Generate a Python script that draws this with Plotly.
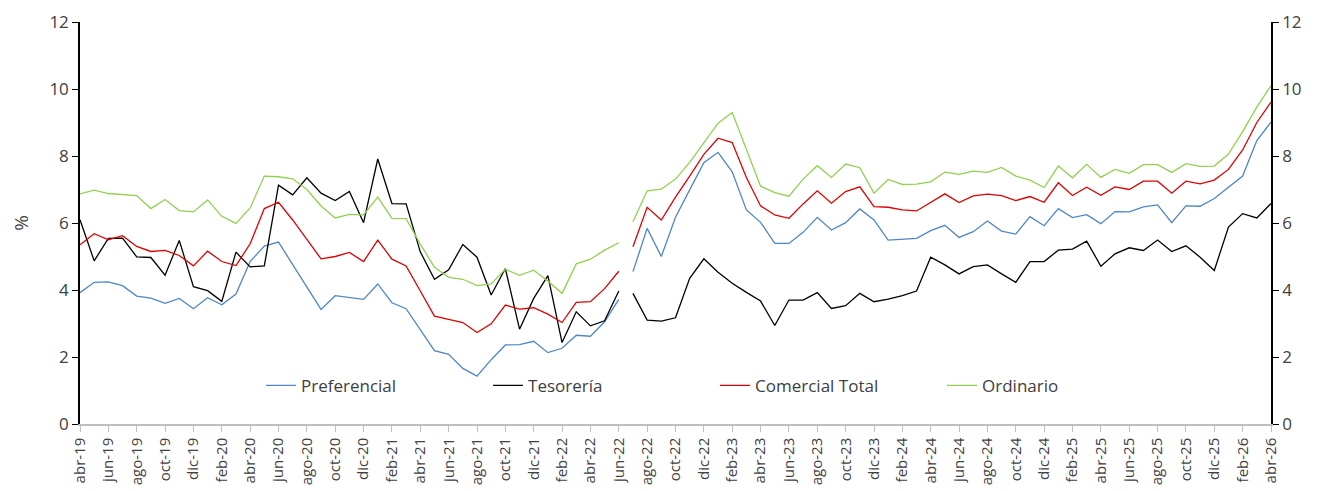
import plotly.graph_objects as go

# months abr-19 .. abr-26 (85 points), series break between jun-22 and jul-22
meses = ["ene", "feb", "mar", "abr", "may", "jun", "jul", "ago", "sep", "oct", "nov", "dic"]
etiquetas = [f"{meses[(3 + i) % 12]}-{19 + (3 + i) // 12}" for i in range(85)]

preferencial = [
    3.92, 4.23, 4.24, 4.13, 3.82, 3.76, 3.60, 3.75, 3.44, 3.77, 3.56, 3.88, 4.85, 5.31, 5.43,
    4.75, 4.10, 3.42, 3.83, 3.78, 3.72, 4.18, 3.62, 3.44, 2.81, 2.19, 2.08, 1.66, 1.43, 1.92,
    2.36, 2.37, 2.47, 2.13, 2.26, 2.65, 2.62, 3.05, 3.72,
    4.55, 5.84, 5.00, 6.17, 6.99, 7.80, 8.11, 7.53, 6.39, 6.02, 5.39, 5.39, 5.72, 6.17, 5.79, 6.01,
    6.42, 6.09, 5.49, 5.52, 5.54, 5.77, 5.93, 5.57, 5.74, 6.06, 5.76, 5.67, 6.19, 5.92, 6.43, 6.16,
    6.25, 5.98, 6.34, 6.33, 6.48, 6.54, 6.01, 6.51, 6.50, 6.73, 7.06, 7.40, 8.46, 9.01,
]
tesoreria = [
    6.10, 4.87, 5.54, 5.55, 4.99, 4.97, 4.44, 5.48, 4.10, 3.98, 3.66, 5.13, 4.69, 4.72, 7.13,
    6.84, 7.35, 6.89, 6.67, 6.94, 6.01, 7.91, 6.58, 6.57, 5.14, 4.32, 4.60, 5.36, 4.98, 3.85,
    4.64, 2.83, 3.75, 4.43, 2.43, 3.35, 2.93, 3.08, 3.97,
    3.90, 3.10, 3.07, 3.17, 4.35, 4.93, 4.53, 4.20, 3.93, 3.67, 2.94, 3.70, 3.70, 3.92, 3.45, 3.53,
    3.90, 3.65, 3.73, 3.83, 3.97, 4.98, 4.75, 4.48, 4.70, 4.75, 4.48, 4.23, 4.85, 4.85, 5.19, 5.22,
    5.46, 4.71, 5.08, 5.26, 5.18, 5.49, 5.15, 5.32, 4.98, 4.58, 5.88, 6.28, 6.15, 6.58,
]
comercial = [
    5.35, 5.68, 5.50, 5.62, 5.30, 5.15, 5.18, 5.03, 4.72, 5.16, 4.85, 4.73, 5.38, 6.43, 6.62,
    6.09, 5.51, 4.93, 5.00, 5.12, 4.85, 5.49, 4.92, 4.72, 3.97, 3.22, 3.12, 3.03, 2.73, 2.99,
    3.55, 3.43, 3.47, 3.28, 3.03, 3.63, 3.65, 4.04, 4.56,
    5.29, 6.47, 6.09, 6.77, 7.40, 8.05, 8.53, 8.40, 7.36, 6.51, 6.24, 6.14, 6.57, 6.96, 6.59, 6.94,
    7.08, 6.49, 6.47, 6.39, 6.36, 6.61, 6.87, 6.61, 6.81, 6.86, 6.82, 6.67, 6.79, 6.62, 7.20, 6.82,
    7.07, 6.83, 7.08, 7.00, 7.25, 7.25, 6.89, 7.25, 7.17, 7.28, 7.60, 8.18, 9.00, 9.61,
]
ordinario = [
    6.87, 6.98, 6.88, 6.84, 6.82, 6.43, 6.70, 6.37, 6.33, 6.69, 6.20, 5.99, 6.45, 7.40, 7.38,
    7.32, 7.00, 6.51, 6.15, 6.26, 6.24, 6.77, 6.14, 6.13, 5.37, 4.68, 4.38, 4.32, 4.13, 4.18,
    4.62, 4.44, 4.59, 4.27, 3.90, 4.78, 4.92, 5.19, 5.41,
    6.04, 6.96, 7.01, 7.31, 7.81, 8.38, 8.98, 9.30, 8.23, 7.10, 6.91, 6.80, 7.31, 7.71, 7.36, 7.76,
    7.65, 6.89, 7.30, 7.15, 7.16, 7.23, 7.52, 7.45, 7.55, 7.51, 7.66, 7.40, 7.28, 7.06, 7.70, 7.35,
    7.75, 7.36, 7.60, 7.48, 7.74, 7.74, 7.51, 7.77, 7.69, 7.70, 8.06, 8.73, 9.46, 10.10,
]

CORTE = 39  # first index of second segment (jul-22)


def partir(vals):
    # insert a gap between jun-22 and jul-22
    x = list(range(CORTE)) + [CORTE - 0.5] + list(range(CORTE, len(vals)))
    y = vals[:CORTE] + [None] + vals[CORTE:]
    return x, y


series = [
    ("Preferencial", preferencial, "#4f86c6"),
    ("Tesorería", tesoreria, "#000000"),
    ("Comercial Total", comercial, "#e00000"),
    ("Ordinario", ordinario, "#92d050"),
]

fig = go.Figure()
for nombre, vals, color in series:
    x, y = partir(vals)
    fig.add_trace(go.Scatter(x=x, y=y, name=nombre, mode="lines",
                             line=dict(color=color, width=1.3), connectgaps=False))

# invisible trace for the right axis
fig.add_trace(go.Scatter(x=[0], y=[0], yaxis="y2", showlegend=False,
                         mode="markers", marker=dict(opacity=0), hoverinfo="skip"))

fuente = dict(family="Open Sans, sans-serif", size=16, color="#404040")

# page body has an 8px margin, so the margins below are shifted by it
fig.update_layout(
    width=1319, height=491,
    margin=dict(l=72, r=56, t=14, b=75),
    plot_bgcolor="white", paper_bgcolor="white",
    font=fuente,
    showlegend=True,
    legend=dict(orientation="h", x=0.152, y=0.095, xanchor="left", yanchor="middle",
                bgcolor="rgba(0,0,0,0)", entrywidth=182, entrywidthmode="pixels",
                font=dict(family="Open Sans, sans-serif", size=17, color="#404040")),
    xaxis=dict(range=[0, 84], tickmode="array", automargin=False,
               tickvals=list(range(0, 85, 2)), ticktext=etiquetas[::2],
               tickangle=-90, ticks="outside", ticklen=6, tickcolor="#bfbfbf",
               showline=True, linecolor="#bfbfbf", linewidth=1.5,
               showgrid=False, zeroline=False, tickfont=dict(size=15)),
    yaxis=dict(range=[0, 12], dtick=2, ticks="outside", ticklen=6, tickcolor="black",
               automargin=False,
               showline=True, linecolor="black", linewidth=1.5, showgrid=False,
               zeroline=False, title=dict(text="%", standoff=16), tickfont=dict(size=17)),
    yaxis2=dict(range=[0, 12], dtick=2, overlaying="y", side="right", ticks="outside",
                automargin=False,
                ticklen=6, tickcolor="black", showline=True, linecolor="black",
                linewidth=1.5, showgrid=False, zeroline=False, tickfont=dict(size=17)),
)

fig.write_html("out.html")
